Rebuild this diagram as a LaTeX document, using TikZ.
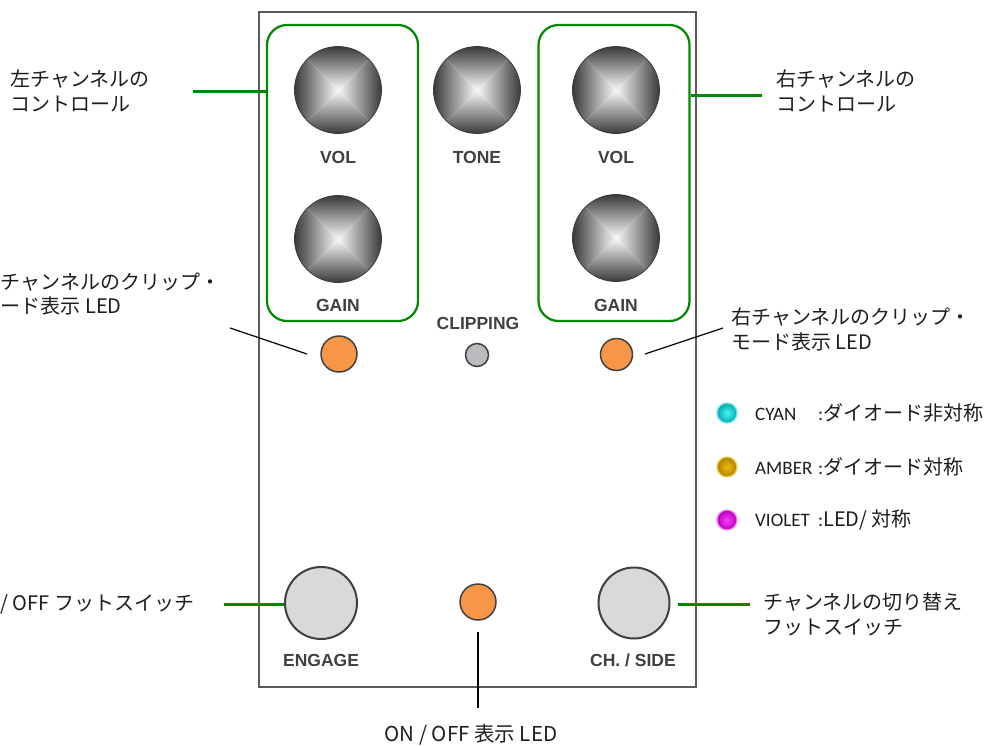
\documentclass[tikz,border=0pt]{standalone}
\usepackage{fontspec}
\setmainfont{Liberation Sans}
\newfontfamily\jp{Noto Sans CJK JP}
\newfontfamily\carl{Carlito}
\definecolor{gr}{RGB}{0,136,0}
\definecolor{encl}{RGB}{90,90,90}
\definecolor{kdark}{RGB}{58,58,58}
\definecolor{klight}{RGB}{248,248,248}
\definecolor{lbl}{RGB}{64,64,64}
\definecolor{orng}{RGB}{247,150,70}
\definecolor{fsw}{RGB}{217,217,219}
\definecolor{clipc}{RGB}{186,187,191}
\definecolor{txt}{RGB}{30,30,30}
\tikzset{
  knob/.style={circle, minimum size=87pt, inner sep=0pt, draw=kdark, line width=0.8pt,
    path picture={
      \coordinate (kc) at (path picture bounding box.center);
      \shade[top color=kdark, bottom color=klight] (path picture bounding box.north west) -- (path picture bounding box.north east) -- (kc) -- cycle;
      \shade[top color=klight, bottom color=kdark] (path picture bounding box.south west) -- (path picture bounding box.south east) -- (kc) -- cycle;
      \shade[left color=kdark, right color=klight] (path picture bounding box.north west) -- (path picture bounding box.south west) -- (kc) -- cycle;
      \shade[left color=klight, right color=kdark] (path picture bounding box.north east) -- (path picture bounding box.south east) -- (kc) -- cycle;
    }},
  klabel/.style={font=\bfseries\fontsize{17.5}{20}\selectfont, text=lbl, inner sep=0pt},
  gbox/.style={draw=gr, line width=2.2pt, rounded corners=20pt, minimum width=151pt, minimum height=296pt, inner sep=0pt},
  gline/.style={draw=gr, line width=3pt},
  bline/.style={draw=black, line width=1.2pt},
  led/.style={circle, fill=orng, draw=lbl, line width=1.5pt, inner sep=0pt, minimum size=#1},
  footsw/.style={circle, fill=fsw, draw=lbl, line width=2pt, inner sep=0pt, minimum size=#1},
  jlabel/.style={font=\jp\fontsize{20}{25}\selectfont, text=txt, inner sep=0pt, align=left},
  gled/.style={circle, minimum size=20pt, inner sep=0pt, line width=1.3pt},
  legtxt/.style={font=\fontsize{19}{22}\selectfont, text=txt, inner sep=0pt, anchor=west}
}
\begin{document}
\begin{tikzpicture}[x=1pt,y=-1pt]
\useasboundingbox[fill=white] (0,0) rectangle (993,745);

% enclosure
\node[draw=encl, line width=2pt, minimum width=437pt, minimum height=675pt, inner sep=0pt] (encl) at (477.5,349.5) {};

% green groups
\node[gbox] (boxL) at (342.5,173) {};
\node[gbox] (boxR) at (614,173) {};

% knobs
\node[knob] (volL) at (338,90) {};
\node[knob] (tone) at (477,90) {};
\node[knob] (volR) at (616,90) {};
\node[knob] (gainL) at (338,239) {};
\node[knob] (gainR) at (616,238) {};

\node[klabel] (lvolL) at (338,157) {VOL};
\node[klabel] (ltone) at (477,157) {TONE};
\node[klabel] (lvolR) at (616,157) {VOL};
\node[klabel] (lgainL) at (338,305) {GAIN};
\node[klabel] (lgainR) at (616,305) {GAIN};
\node[klabel] (lclip) at (478,323) {CLIPPING};

% LEDs
\node[led=36pt] (ledL) at (339,354) {};
\node[circle, fill=clipc, draw=lbl, line width=1.5pt, inner sep=0pt, minimum size=23pt] (ledC) at (477,355) {};
\node[led=32pt] (ledR) at (616.5,354.5) {};
\node[led=36pt] (ledOn) at (478,602) {};

% footswitches
\node[footsw=72pt] (fswL) at (321,603) {};
\node[footsw=71pt] (fswR) at (634,603) {};
\node[klabel] (leng) at (321,660) {ENGAGE};
\node[klabel] (lch) at (633,660) {CH. / SIDE};

% annotation labels
\node[jlabel, anchor=west] (tL) at (10,90.5) {左チャンネルの\\コントロール};
\node[jlabel, anchor=west] (tR) at (776,90.5) {右チャンネルの\\コントロール};
\node[jlabel, anchor=west] (tclipL1) at (0.5,282) {チャンネルのクリップ・};
\node[jlabel, anchor=west] (tclipL2) at (0.5,306) {ード表示 LED};
\node[jlabel, anchor=west] (tclipR) at (731,329) {右チャンネルのクリップ・\\モード表示 LED};
\node[jlabel, anchor=west] (tfL) at (0.5,604) {/ OFF フットスイッチ};
\node[jlabel, anchor=west] (tfR) at (763,614) {チャンネルの切り替え\\フットスイッチ};
\node[jlabel, font=\jp\fontsize{20.5}{25}\selectfont] (ton) at (471,735) {ON / OFF 表示 LED};

% connectors
\coordinate (gL) at (193,91);
\draw[gline] (gL) -- (gL -| boxL.west);
\coordinate (gR) at (762,95);
\draw[gline] (gR) -- (gR -| boxR.east);
\coordinate (fL) at (224,604);
\draw[gline] (fL) -- (fL -| fswL.west);
\coordinate (fR) at (750,604);
\coordinate (fR2) at (678,604);
\draw[gline] (fR) -- (fR2);

\coordinate (cL1) at (230,328);
\coordinate (cL2) at (307,354);
\draw[bline] (cL1) -- (cL2);
\coordinate (cR1) at (723,328);
\coordinate (cR2) at (645,354);
\draw[bline] (cR1) -- (cR2);
\coordinate (on1) at (478,632);
\coordinate (on2) at (478,708);
\draw[bline] (on1) -- (on2);

% legend
\node[gled, inner color={rgb,255:red,70;green,245;blue,245}, outer color={rgb,255:red,0;green,170;blue,175}, draw={rgb,255:red,120;green,225;blue,230}] (gC) at (727,413) {};
\node[gled, inner color={rgb,255:red,235;green,185;blue,10}, outer color={rgb,255:red,175;green,130;blue,0}, draw={rgb,255:red,240;green,205;blue,90}] (gA) at (727,467) {};
\node[gled, inner color={rgb,255:red,255;green,60;blue,255}, outer color={rgb,255:red,180;green,0;blue,185}, draw={rgb,255:red,240;green,130;blue,240}] (gV) at (727,520) {};

\node[legtxt] (lC) at (755,413) {\makebox[63pt][l]{\carl CYAN}{\carl :}{\jp\fontsize{20}{22}\selectfont ダイオード非対称}};
\node[legtxt] (lA) at (755,467) {\makebox[63pt][l]{\carl AMBER}{\carl :}{\jp\fontsize{20}{22}\selectfont ダイオード対称}};
\node[legtxt] (lV) at (755,520) {\makebox[63pt][l]{\carl VIOLET}{\carl :}{\jp\fontsize{20}{22}\selectfont LED/ 対称}};
\end{tikzpicture}
\end{document}
